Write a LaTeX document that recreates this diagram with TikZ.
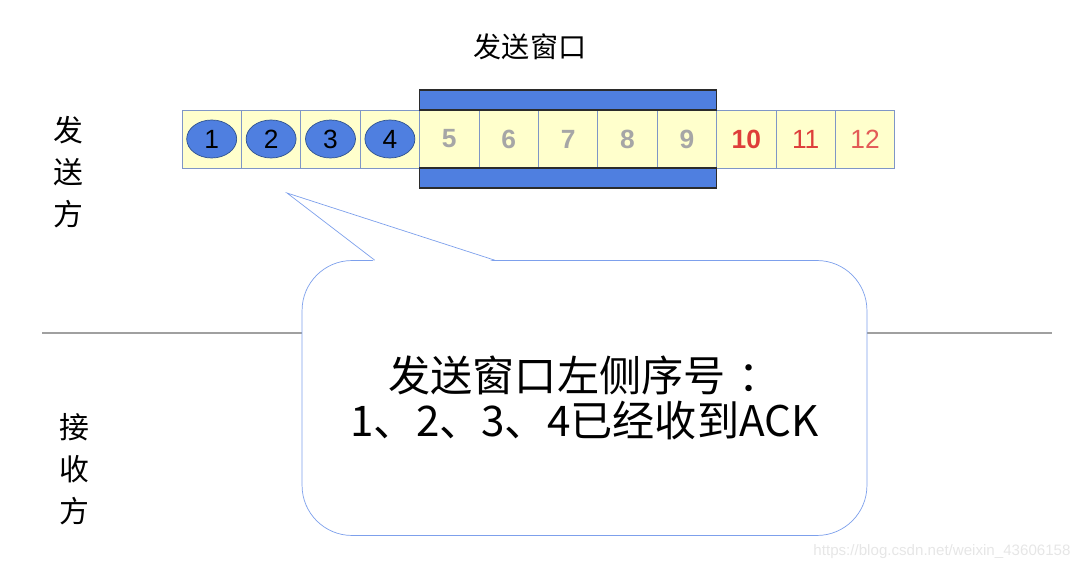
\documentclass[tikz,border=0pt]{standalone}
\usepackage{fontspec}
\setmainfont{Liberation Sans}
\newfontfamily\cjk{Noto Sans CJK SC}
\usetikzlibrary{shapes.geometric, positioning, calc}

\definecolor{cellfill}{HTML}{FFFFCC}
\definecolor{cellline}{HTML}{7F96C6}
\definecolor{winblue}{HTML}{4F7FE0}
\definecolor{pktline}{HTML}{2F528F}
\definecolor{barline}{HTML}{2B2B2B}
\definecolor{numgray}{HTML}{A6A6A6}
\definecolor{numred}{HTML}{DE3E3A}
\definecolor{bubbleline}{HTML}{7DA0EC}
\definecolor{divline}{HTML}{A0A0A0}
\definecolor{markgray}{HTML}{E6E6E6}

\begin{document}
\begin{tikzpicture}[
    x=0.02cm, y=-0.02cm,
    cell/.style={rectangle, draw=cellline, fill=cellfill, minimum width=1.188cm, minimum height=1.16cm, inner sep=0pt, outer sep=0pt},
    acked/.style={ellipse, draw=pktline, fill=winblue, minimum width=1cm, minimum height=0.76cm, inner sep=0pt, font=\fontsize{15}{15}\selectfont},
    sent/.style={font=\fontsize{15}{15}\selectfont\bfseries, text=numgray},
    unsent/.style={font=\fontsize{15}{15}\selectfont, text=numred},
    winbar/.style={rectangle, draw=barline, line width=0.8pt, fill=winblue, minimum width=5.94cm, minimum height=0.4cm, inner sep=0pt, outer sep=0pt},
    side/.style={font=\cjk\fontsize{17}{24}\selectfont, align=center},
    bubble/.style={rectangle, rounded corners=1cm, draw=bubbleline, fill=white, minimum width=11.3cm, minimum height=5.5cm, align=center, font=\cjk\fontsize{24}{26}\selectfont}
]
    \useasboundingbox (0,0) rectangle (1088,570);

    % sender / receiver split
    \draw[divline, line width=0.6pt] (42,333) -- (1052,333);
    \node[side] (sender) at (68,172) {发\\送\\方};
    \node[side] (receiver) at (74,469) {接\\收\\方};

    % sequence numbers
    \foreach \i in {1,...,12}
        \node[cell] (c\i) at ({211.7+59.4*(\i-1)},139) {};
    \foreach \i in {1,...,4}
        \node[acked] (p\i) at (c\i) {\i};
    \foreach \i in {5,...,9}
        \node[sent] (s\i) at (c\i) {\i};
    \node[unsent, font=\fontsize{15}{15}\selectfont\bfseries] (u10) at (c10) {10};
    \node[unsent] (u11) at (c11) {11};
    \node[unsent, text=numred!85] (u12) at (c12) {12};

    % send window
    \node[winbar, anchor=south west] (wtop) at (c5.north west) {};
    \node[winbar, anchor=north west] (wbot) at (c5.south west) {};
    \node[font=\cjk\fontsize{16}{16}\selectfont] (wlabel) at (530,47) {发送窗口};

    % callout
    \node[bubble] (msg) at (584.5,398) {发送窗口左侧序号\hspace{0.3em}：\\1、2、3、4已经收到ACK};
    \coordinate (tip) at (287,193);
    \coordinate (ba) at ($(msg.north west)+(73,0)$);
    \coordinate (bb) at ($(msg.north west)+(193,0)$);
    \fill[white] ($(ba)+(0,1.5)$) -- (tip) -- ($(bb)+(0,1.5)$) -- cycle;
    \draw[bubbleline] (ba) -- (tip) -- (bb);

    \node[text=markgray, font=\fontsize{8.6}{9}\selectfont] (mark) at (942,552) {https://blog.csdn.net/weixin\_43606158};
\end{tikzpicture}
\end{document}
